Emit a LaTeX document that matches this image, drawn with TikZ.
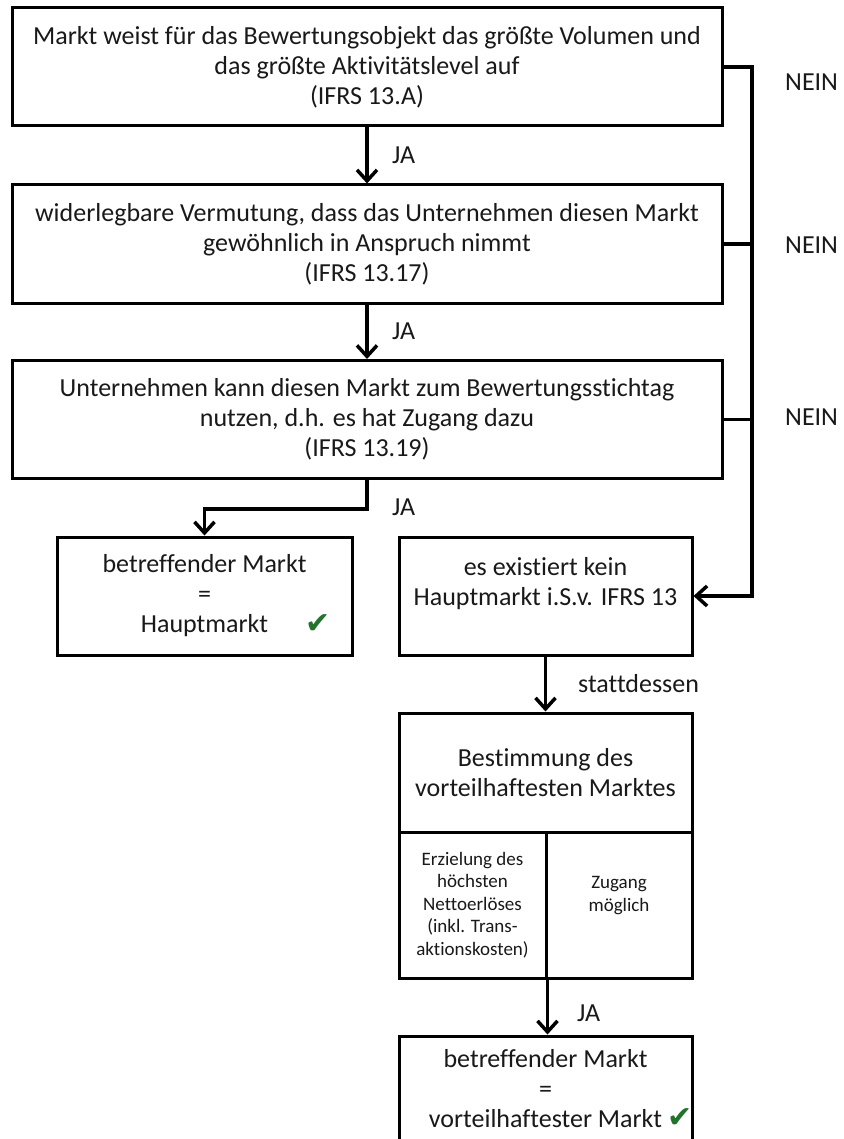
\documentclass[tikz,border=0pt]{standalone}
\usepackage{fontspec}
\setmainfont{Carlito}[Ligatures=NoCommon]
\newfontfamily\symfont{DejaVu Sans}
\usetikzlibrary{arrows.meta}
\definecolor{checkgreen}{RGB}{35,115,45}
\definecolor{ink}{RGB}{25,25,25}

\begin{document}
\begin{tikzpicture}[x=1pt,y=-1pt,
    box/.style={draw,line width=3pt,align=center,inner sep=0pt,text=ink,
      font=\fontsize{26}{30}\selectfont},
    cell/.style={box,font=\fontsize{19}{22.5}\selectfont},
    lbl/.style={anchor=west,inner sep=0pt,text=ink,font=\fontsize{26}{30}\selectfont},
    arr/.style={line width=3.5pt,-{Straight Barb[length=11pt,width=20pt]}},
    tick/.style={text=checkgreen,inner sep=0pt,font=\symfont\fontsize{30}{30}\selectfont}]
  \useasboundingbox (0,0) rectangle (843,1139);
  \fill[white] (0,0) rectangle (843,1139);
  % the three questions
  \node[box,minimum width=710pt,minimum height=118pt] (q1) at (367,67)
    {Markt weist für das Bewertungsobjekt das größte Volumen und\\das größte Aktivitätslevel auf\\(IFRS 13.A)};
  \node[box,minimum width=710pt,minimum height=118pt] (q2) at (367,244)
    {widerlegbare Vermutung, dass das Unternehmen diesen Markt\\gewöhnlich in Anspruch nimmt\\(IFRS 13.17)};
  \node[box,minimum width=710pt,minimum height=118pt] (q3) at (367,419.5)
    {Unternehmen kann diesen Markt zum Bewertungsstichtag\\nutzen, d.h. es hat Zugang dazu\\(IFRS 13.19)};
  % outcomes
  \node[box,minimum width=295pt,minimum height=118pt] (hm) at (204.5,596)
    {betreffender Markt\\=\\Hauptmarkt};
  \node[tick] (ok1) at (318,624) {✔};
  \node[box,minimum width=293pt,minimum height=118pt] (kein) at (545.5,596)
    {es existiert kein\\Hauptmarkt i.S.v. IFRS 13\\\mbox{}};
  \node[box,minimum width=293pt,minimum height=119pt] (best) at (545.5,772.5)
    {Bestimmung des\\vorteilhaftesten Marktes};
  \node[cell,minimum width=147pt,minimum height=146pt] (crit1) at (472.5,905)
    {Erzielung des\\höchsten\\Nettoerlöses\\(inkl. Trans-\\aktionskosten)};
  \node[cell,minimum width=146pt,minimum height=146pt] (crit2) at (619,905)
    {Zugang\\möglich\\\mbox{}};
  \node[box,minimum width=293pt,minimum height=106pt] (fin) at (545.5,1089)
    {betreffender Markt\\=\\vorteilhaftester Markt};
  \node[tick] (ok2) at (680,1118) {✔};
  % JA path
  \draw[arr] (q1) -- (q2);
  \node[lbl] (ja1) at (392,155) {JA};
  \draw[arr] (q2) -- (q3);
  \node[lbl] (ja2) at (392,331) {JA};
  \draw[arr] (q3.south) -- ++(0,29) -| (hm.north);
  \node[lbl] (ja3) at (392,507) {JA};
  % NEIN path
  \coordinate (bus) at (752,67);
  \draw[arr] (q1.east) -- (bus) |- (kein.east);
  \draw[line width=3.5pt] (q2.east) -- (q2.east -| bus);
  \draw[line width=3.5pt] (q3.east) -- (q3.east -| bus);
  \node[lbl] (n1) at (785,82) {NEIN};
  \node[lbl] (n2) at (785,245) {NEIN};
  \node[lbl] (n3) at (785,417) {NEIN};
  % advantageous market
  \draw[arr] (kein) -- (best);
  \node[lbl] (statt) at (578,684) {stattdessen};
  \draw[arr] (crit1.south east) -- (crit1.south east |- fin.north);
  \node[lbl] (ja4) at (577,1013) {JA};
\end{tikzpicture}
\end{document}
